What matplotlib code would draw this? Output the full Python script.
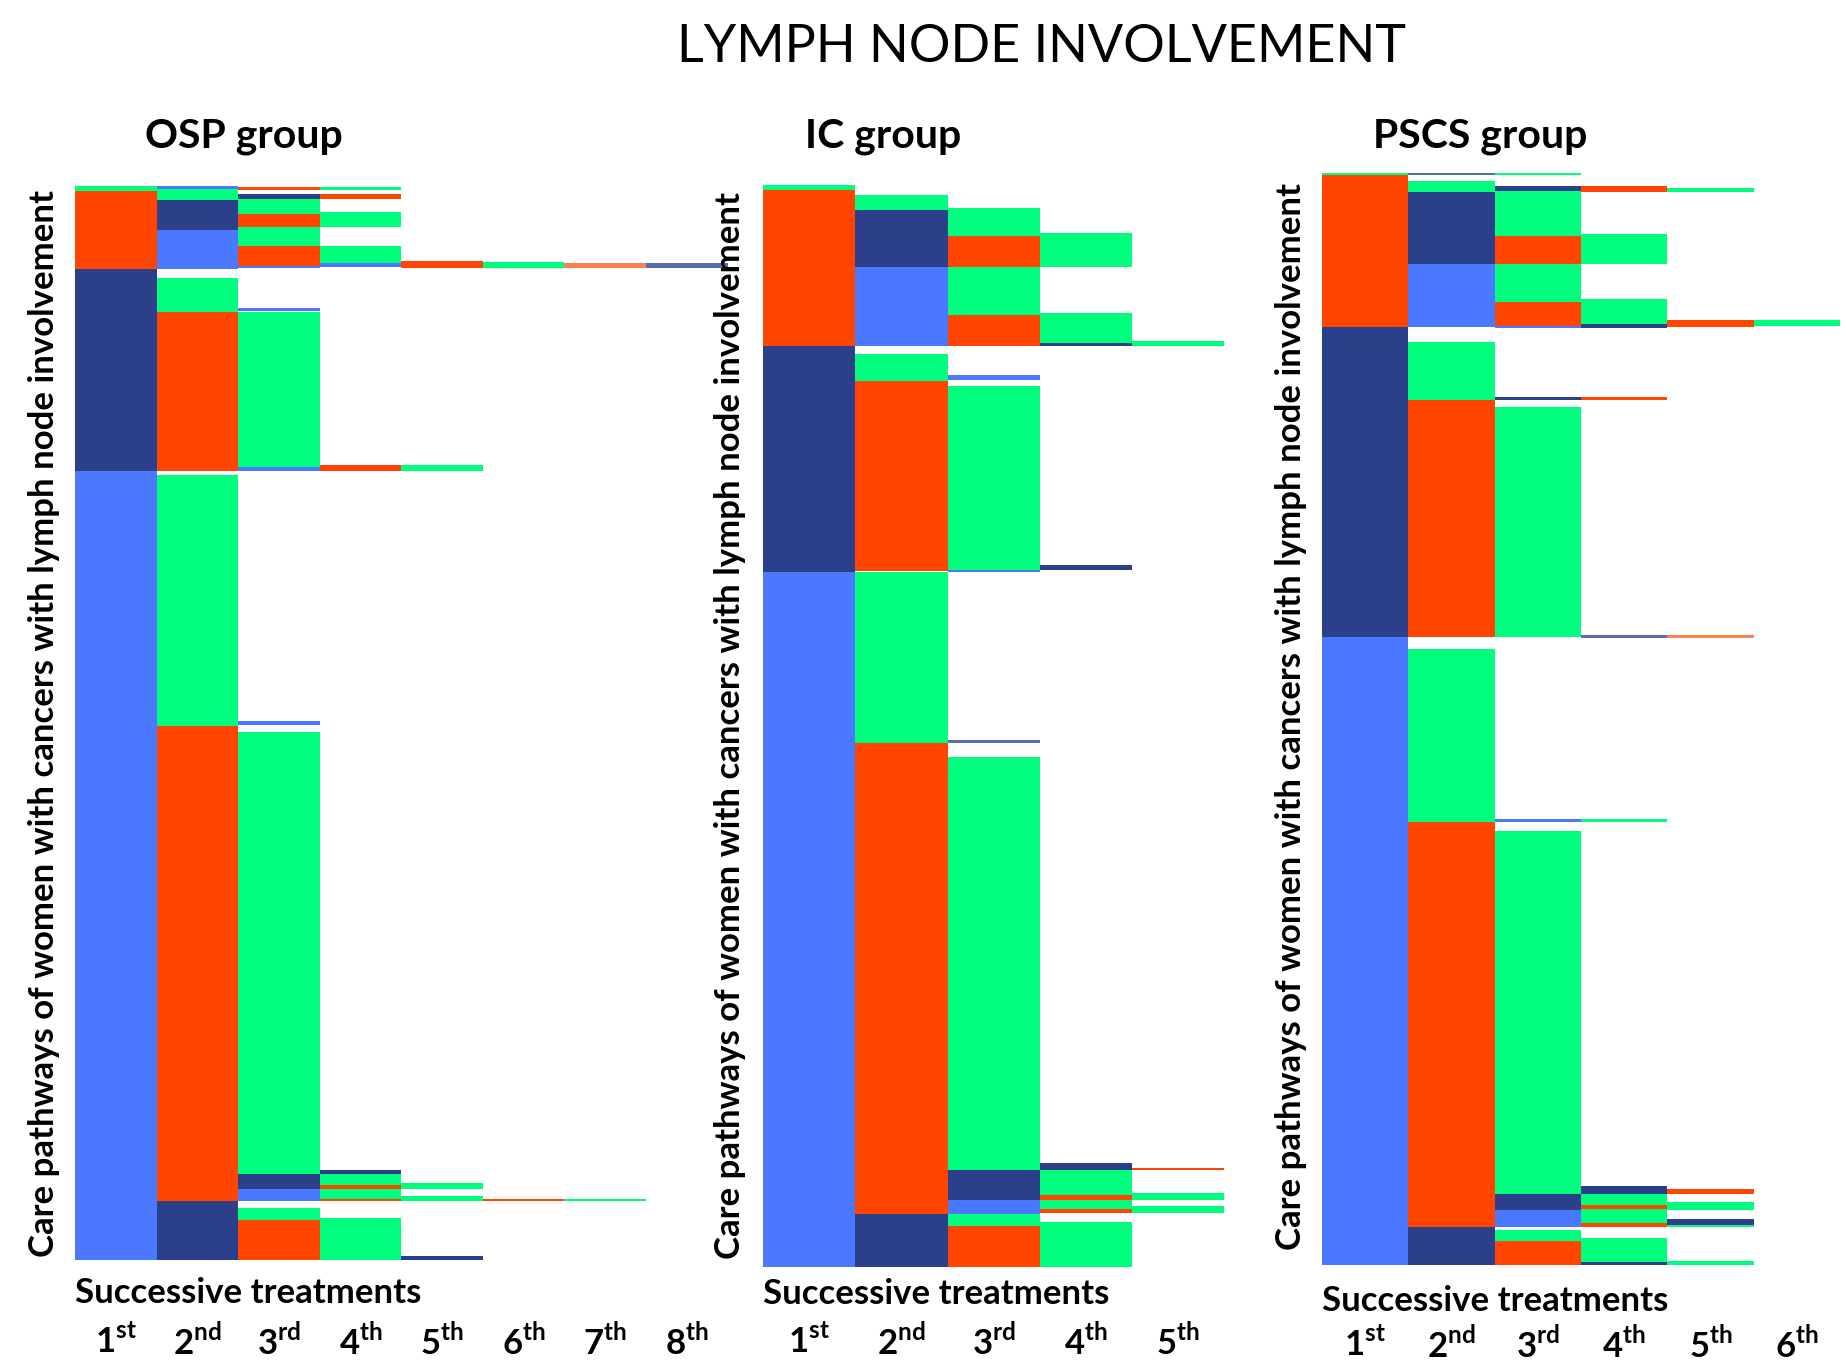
import matplotlib.pyplot as plt
from matplotlib.transforms import blended_transform_factory

plt.rcParams['font.family'] = ['Lato', 'DejaVu Sans']
plt.rcParams['mathtext.fontset'] = 'custom'
plt.rcParams['mathtext.rm'] = 'Lato'
plt.rcParams['mathtext.bf'] = 'Lato:bold'

# D: dark blue, L: light blue, R: red, G: green, O / M: lighter variants of thin lines
palette = {'D': '#2b3f8a', 'L': '#4a78ff', 'R': '#ff4500', 'G': '#00ff7f',
           'O': '#ff7f50', 'M': '#5a6cb0'}

suffixes = ['st', 'nd', 'rd', 'th', 'th', 'th', 'th', 'th']

# OSP group: treatment column, type code, start / end (% of pathways, from top)
osp_col = [0, 0, 0, 0,
           1, 1, 1, 1, 1, 1, 1, 1, 1,
           2, 2, 2, 2, 2, 2, 2, 2, 2, 2, 2, 2, 2, 2, 2, 2,
           3, 3, 3, 3, 3, 3, 3, 3, 3, 3, 3, 3,
           4, 4, 4, 4, 4,
           5, 5,
           6, 6,
           7]
osp_code = ['G', 'R', 'D', 'L',
            'L', 'G', 'D', 'L', 'G', 'R', 'G', 'R', 'D',
            'R', 'D', 'G', 'R', 'G', 'R', 'L', 'L', 'G', 'L', 'L', 'G', 'D', 'L', 'G', 'R',
            'G', 'R', 'G', 'G', 'L', 'R', 'D', 'G', 'R', 'G', 'R', 'G',
            'R', 'G', 'G', 'G', 'D',
            'G', 'R',
            'O', 'G',
            'M']
osp_start = [0, 0.5, 7.7, 26.5,
             0, 0.3, 1.3, 4.1, 8.6, 11.7, 26.9, 50.3, 94.5,
             0.1, 0.7, 1.2, 2.6, 3.8, 5.6, 7.4, 11.4, 11.7, 26.2, 49.8, 50.8, 92.0, 93.4, 95.1, 96.3,
             0.1, 0.7, 2.4, 5.6, 7.2, 26.0, 91.6, 92.0, 93.0, 93.4, 94.3, 96.1,
             7.0, 26.0, 92.8, 94.0, 99.6,
             7.1, 94.3,
             7.2, 94.3,
             7.2]
osp_end = [0.5, 7.7, 26.5, 100,
           0.3, 1.3, 4.1, 7.7, 11.7, 26.5, 50.3, 94.5, 100,
           0.4, 1.2, 2.6, 3.8, 5.6, 7.4, 7.6, 11.6, 26.2, 26.5, 50.2, 92.0, 93.4, 94.5, 96.3, 100,
           0.4, 1.2, 3.8, 7.2, 7.5, 26.5, 92.0, 93.0, 93.4, 94.3, 94.5, 100,
           7.6, 26.5, 93.4, 94.5, 100,
           7.6, 94.5,
           7.6, 94.5,
           7.6]

# IC group
ic_col = [0, 0, 0, 0,
          1, 1, 1, 1, 1, 1, 1, 1,
          2, 2, 2, 2, 2, 2, 2, 2, 2, 2, 2, 2, 2,
          3, 3, 3, 3, 3, 3, 3, 3, 3, 3,
          4, 4, 4, 4]
ic_code = ['G', 'R', 'D', 'L',
           'G', 'D', 'L', 'G', 'R', 'G', 'R', 'D',
           'G', 'R', 'G', 'R', 'L', 'G', 'L', 'M', 'G', 'D', 'L', 'G', 'R',
           'G', 'G', 'D', 'D', 'D', 'G', 'R', 'G', 'R', 'G',
           'G', 'R', 'G', 'G']
ic_start = [0, 0.5, 14.9, 35.8,
            0.9, 2.3, 7.6, 15.6, 18.1, 35.8, 51.6, 95.1,
            2.1, 4.7, 7.6, 12.0, 17.6, 18.6, 35.6, 51.3, 52.9, 91.0, 93.8, 95.1, 96.2,
            4.4, 11.8, 14.6, 35.1, 90.4, 91.0, 93.3, 93.8, 94.6, 95.8,
            14.4, 90.8, 93.1, 94.3]
ic_end = [0.5, 14.9, 35.8, 100,
          2.3, 7.6, 14.9, 18.1, 35.7, 51.6, 95.1, 100,
          4.7, 7.6, 12.0, 14.9, 18.0, 35.6, 35.8, 51.6, 91.0, 93.8, 95.1, 96.2, 100,
          7.6, 14.6, 14.9, 35.6, 91.0, 93.3, 93.8, 94.6, 95.0, 100,
          14.9, 91.0, 93.8, 95.0]

# PSCS group
pscs_col = [0, 0, 0, 0,
            1, 1, 1, 1, 1, 1, 1, 1, 1,
            2, 2, 2, 2, 2, 2, 2, 2, 2, 2, 2, 2, 2, 2, 2,
            3, 3, 3, 3, 3, 3, 3, 3, 3, 3, 3, 3, 3, 3,
            4, 4, 4, 4, 4, 4, 4, 4,
            5]
pscs_code = ['G', 'R', 'D', 'L',
             'M', 'G', 'D', 'L', 'G', 'R', 'G', 'R', 'D',
             'G', 'D', 'G', 'R', 'G', 'R', 'L', 'D', 'G', 'L', 'G', 'D', 'L', 'G', 'R',
             'R', 'G', 'G', 'D', 'R', 'M', 'G', 'D', 'G', 'R', 'G', 'R', 'G', 'D',
             'G', 'R', 'O', 'R', 'G', 'D', 'G', 'G',
             'G']
pscs_start = [0, 0.2, 14.1, 42.5,
              0, 0.7, 1.7, 8.3, 15.5, 20.8, 43.6, 59.4, 96.5,
              0, 1.2, 1.6, 5.8, 8.3, 11.8, 14.0, 20.5, 21.4, 59.2, 60.3, 93.5, 95.0, 96.8, 97.8,
              1.2, 5.6, 11.5, 13.8, 20.5, 42.3, 59.2, 92.8, 93.5, 94.5, 94.9, 96.2, 97.5, 99.7,
              1.4, 13.5, 42.3, 93.0, 94.2, 95.8, 96.3, 99.6,
              13.5]
pscs_end = [0.2, 14.1, 42.5, 100,
            0.2, 1.7, 8.3, 14.1, 20.8, 42.5, 59.4, 96.5, 100,
            0.2, 1.6, 5.8, 8.3, 11.8, 14.0, 14.2, 20.8, 42.5, 59.4, 93.5, 95.0, 96.5, 97.8, 100,
            1.7, 8.3, 13.8, 14.2, 20.8, 42.6, 59.4, 93.5, 94.5, 94.9, 96.2, 96.5, 99.7, 100,
            1.7, 14.1, 42.6, 93.5, 95.0, 96.3, 96.5, 100,
            14.0]

ylab = "Care pathways of women with cancers with lymph node involvement"


def draw_panel(fig, rect, ncols, cols, codes, starts, ends, title, title_x,
               ylab_x, ylab_y, xlab_y, tick_y):
    ax = fig.add_axes(rect)
    heights = [e - s for s, e in zip(starts, ends)]
    ax.bar(cols, heights, bottom=starts, width=1, align='edge',
           color=[palette[c] for c in codes], linewidth=0)
    ax.set_xlim(0, ncols)
    ax.set_ylim(100, 0)
    ax.axis('off')

    fig.text(title_x, 0.900, title, ha='center', va='center',
             fontsize=29.5, fontweight='bold')
    fig.text(ylab_x, ylab_y, ylab, rotation=90, ha='center', va='center',
             fontsize=25, fontweight='bold')
    fig.text(rect[0], xlab_y, "Successive treatments", ha='left', va='center',
             fontsize=25, fontweight='bold')
    trans = blended_transform_factory(ax.transData, fig.transFigure)
    for i in range(ncols):
        lab = f"{i + 1}$^{{\\mathbf{{{suffixes[i]}}}}}$"
        ax.text(i + 0.5, tick_y, lab, transform=trans, ha='center', va='center',
                fontsize=25, fontweight='bold')
    return ax


fig = plt.figure(figsize=(18.46, 13.65), dpi=100)

fig.text(0.5644, 0.9655, "LYMPH NODE INVOLVEMENT", ha='center', va='center',
         fontsize=37.5)

draw_panel(fig, [0.0408, 0.0768, 0.3533, 0.7869], 8,
           osp_col, osp_code, osp_start, osp_end, "OSP group", 0.132,
           0.0236, 0.470, 0.0526, 0.0175)
draw_panel(fig, [0.4133, 0.0716, 0.2500, 0.7929], 5,
           ic_col, ic_code, ic_start, ic_end, "IC group", 0.4783,
           0.3954, 0.4685, 0.0518, 0.0175)
draw_panel(fig, [0.7162, 0.0733, 0.2806, 0.7999], 6,
           pscs_col, pscs_code, pscs_start, pscs_end, "PSCS group", 0.8017,
           0.6996, 0.4754, 0.0466, 0.0150)

fig.savefig("out.png", dpi=100, facecolor='white')
